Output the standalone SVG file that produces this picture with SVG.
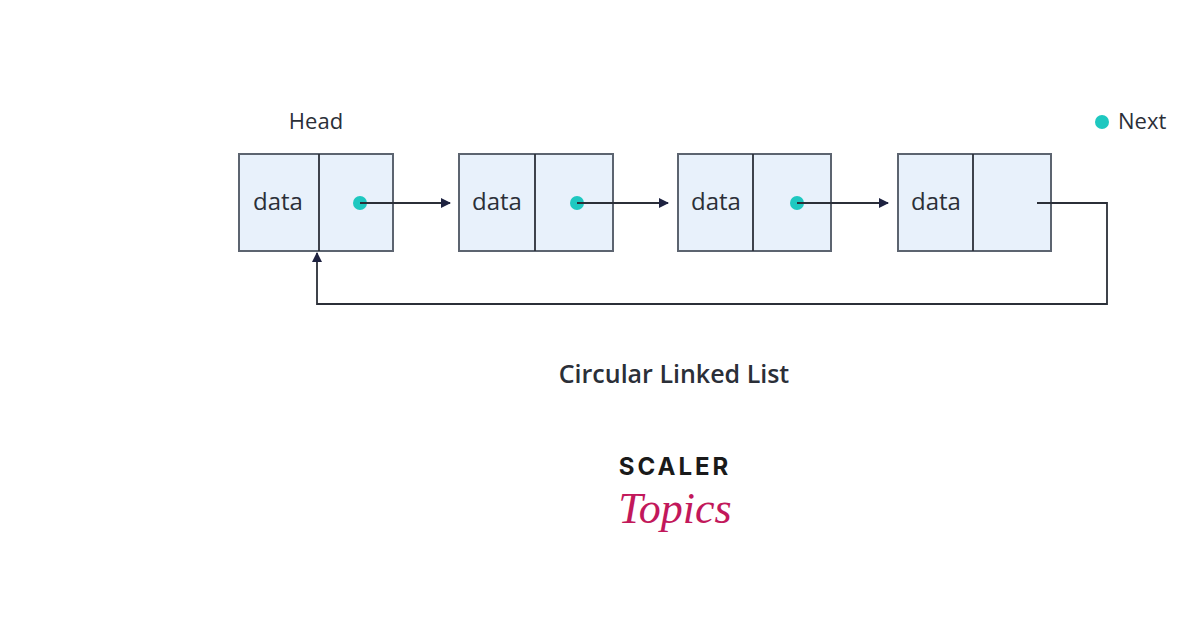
<svg xmlns="http://www.w3.org/2000/svg" width="1200" height="627" viewBox="0 0 1200 627">
<style>
.box{fill:#e8f1fb;stroke:#5c6470;stroke-width:2}
.t{font-family:"Open Sans","Liberation Sans",sans-serif;fill:#2b2f38}
.ln{fill:none;stroke:#2b2f38;stroke-width:1.8}
.dot{fill:#1ec8c0}
</style>
<defs><marker id="a" viewBox="0 0 10 10" refX="9" refY="5" markerWidth="10" markerHeight="10" markerUnits="userSpaceOnUse" orient="auto"><path d="M0,0L10,5L0,10z" fill="#1e2240"/></marker></defs>
<rect width="1200" height="627" fill="#fff"/>
<text class="t" x="316" y="129" font-size="22" text-anchor="middle">Head</text>
<circle class="dot" cx="1102" cy="122" r="7"/>
<text class="t" x="1118" y="129" font-size="22">Next</text>
<g id="n1"><rect class="box" x="239" y="154" width="154" height="97"/><line class="ln" x1="319" y1="154" x2="319" y2="251" stroke="#5c6470"/><text class="t" x="278" y="210" font-size="24" text-anchor="middle">data</text><circle class="dot" cx="360" cy="203" r="7"/></g>
<g id="n2"><rect class="box" x="459" y="154" width="154" height="97"/><line class="ln" x1="535" y1="154" x2="535" y2="251"/><text class="t" x="497" y="210" font-size="24" text-anchor="middle">data</text><circle class="dot" cx="577" cy="203" r="7"/></g>
<g id="n3"><rect class="box" x="678" y="154" width="153" height="97"/><line class="ln" x1="753" y1="154" x2="753" y2="251"/><text class="t" x="716" y="210" font-size="24" text-anchor="middle">data</text><circle class="dot" cx="797" cy="203" r="7"/></g>
<g id="n4"><rect class="box" x="898" y="154" width="153" height="97"/><line class="ln" x1="973" y1="154" x2="973" y2="251"/><text class="t" x="936" y="210" font-size="24" text-anchor="middle">data</text></g>
<g id="connectors">
<line class="ln" x1="360" y1="203" x2="450" y2="203" marker-end="url(#a)"/>
<line class="ln" x1="577" y1="203" x2="668" y2="203" marker-end="url(#a)"/>
<line class="ln" x1="797" y1="203" x2="888" y2="203" marker-end="url(#a)"/>
<path class="ln" d="M1037,203H1107V304H317V253" marker-end="url(#a)"/>
</g>
<text class="t" x="674" y="383" font-size="25" font-weight="600" text-anchor="middle">Circular Linked List</text>
<text x="675" y="475" font-size="24" font-weight="bold" letter-spacing="3" text-anchor="middle" font-family="Inter,'Liberation Sans',sans-serif" fill="#1a1a1a">SCALER</text>
<text x="675" y="523" font-size="44" font-style="italic" text-anchor="middle" font-family="'Liberation Serif',serif" fill="#c2185b">Topics</text>
</svg>
